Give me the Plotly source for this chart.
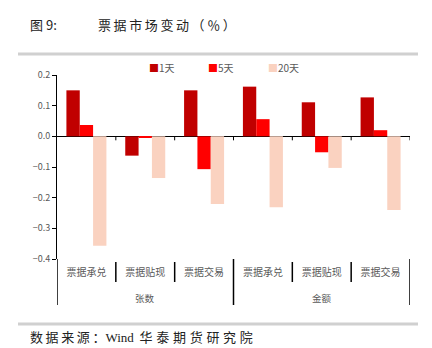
import plotly.graph_objects as go

groups = ["张数", "金额"]
cats = ["票据承兑", "票据贴现", "票据交易", "票据承兑", "票据贴现", "票据交易"]
series_names = ["1天", "5天", "20天"]
v1 = [0.150, -0.063, 0.150, 0.162, 0.111, 0.127]
v5 = [0.037, -0.005, -0.107, 0.056, -0.052, 0.020]
v20 = [-0.357, -0.136, -0.221, -0.231, -0.103, -0.240]
colors = ["#C00000", "#FF0000", "#FAD2C0"]
ytickvals = [0.2, 0.1, 0.0, -0.1, -0.2, -0.3, -0.4]

W, H = 432, 348
L, R, T, B = 57, 22, 75, 89
pw, ph = W - L - R, H - T - B

def px(x):
    return (x - L) / pw

def py(y):
    return (H - B - y) / ph

font_cjk = "Noto Sans CJK SC, Noto Sans, sans-serif"
gray = "#595959"
TS = "\u2009"

xpos = list(range(len(cats)))
per_group = len(cats) // len(groups)

fig = go.Figure()
for name, vals, c in zip(series_names, [v1, v5, v20], colors):
    fig.add_trace(go.Bar(name=name, x=xpos, y=vals, marker_color=c,
                         marker_line_width=0, showlegend=False))

fig.update_layout(
    width=W, height=H,
    margin=dict(l=L, r=R, t=T, b=B),
    paper_bgcolor="white", plot_bgcolor="white",
    barmode="group", bargap=0.32, bargroupgap=0,
    font=dict(family=font_cjk, size=9, color=gray),
    xaxis=dict(range=[-0.5, len(cats) - 0.5], tickvals=xpos, ticktext=cats,
               showline=False, showgrid=False, zeroline=False, ticks="",
               ticklabelstandoff=6, tickfont=dict(size=10, color=gray)),
    yaxis=dict(range=[-0.4, 0.2], tickvals=ytickvals, tickformat=".1f",
               showline=True, linecolor="black", linewidth=1,
               ticks="outside", ticklen=4, tickcolor="black",
               showgrid=False, zeroline=True, zerolinecolor="black", zerolinewidth=1,
               tickfont=dict(size=9, color=gray)),
)

# category boundaries: small ticks on the zero line, dividers below the plot
for i in range(len(cats) + 1):
    b = i - 0.5
    if i > 0:
        fig.add_shape(type="line", xref="x", yref="y", x0=b, x1=b, y0=0, y1=-0.013,
                      line=dict(color="black", width=1))
    if i % per_group == 0:
        fig.add_shape(type="line", xref="x", yref="paper", x0=b, x1=b,
                      y0=py(259), y1=py(305), line=dict(color="black", width=1.5))
    else:
        fig.add_shape(type="line", xref="x", yref="paper", x0=b, x1=b,
                      y0=py(262), y1=py(282), line=dict(color="black", width=1.5))

# group labels
for gi, g in enumerate(groups):
    fig.add_annotation(text=g, x=gi * per_group + (per_group - 1) / 2, y=py(298),
                       xref="x", yref="paper", showarrow=False, yanchor="middle",
                       font=dict(size=9.5, color=gray, family=font_cjk))

# legend (built from series names and colours)
leg_x = [147, 206, 266]
for name, c, lx in zip(series_names, colors, leg_x):
    fig.add_annotation(text=f"<span style='color:{c}'>■</span>{name}", x=px(lx), y=py(68),
                       xref="paper", yref="paper", xanchor="left", yanchor="middle",
                       showarrow=False, font=dict(size=10, color=gray, family=font_cjk))

# title and source
fig.add_annotation(text="图 9:", x=px(28), y=py(25), xref="paper", yref="paper",
                   xanchor="left", yanchor="middle", showarrow=False,
                   font=dict(size=13, color="#222222", family=font_cjk))
fig.add_annotation(text=TS.join("票据市场变动（％）"), x=px(96), y=py(25), xref="paper", yref="paper",
                   xanchor="left", yanchor="middle", showarrow=False,
                   font=dict(size=13, color="#222222", family=font_cjk))
fig.add_annotation(text=TS.join("数据来源：") + "Wind \u2009" + (TS + "\u200a").join("华泰期货研究院"),
                   x=px(28), y=py(337), xref="paper", yref="paper",
                   xanchor="left", yanchor="middle", showarrow=False,
                   font=dict(size=13, color="#222222", family="Liberation Serif, " + font_cjk))

for yy in [54, 324]:
    fig.add_shape(type="line", xref="paper", yref="paper", x0=px(18), x1=px(418),
                  y0=py(yy), y1=py(yy), line=dict(color="#D0D0D0", width=3))

fig.write_html("out.html")
